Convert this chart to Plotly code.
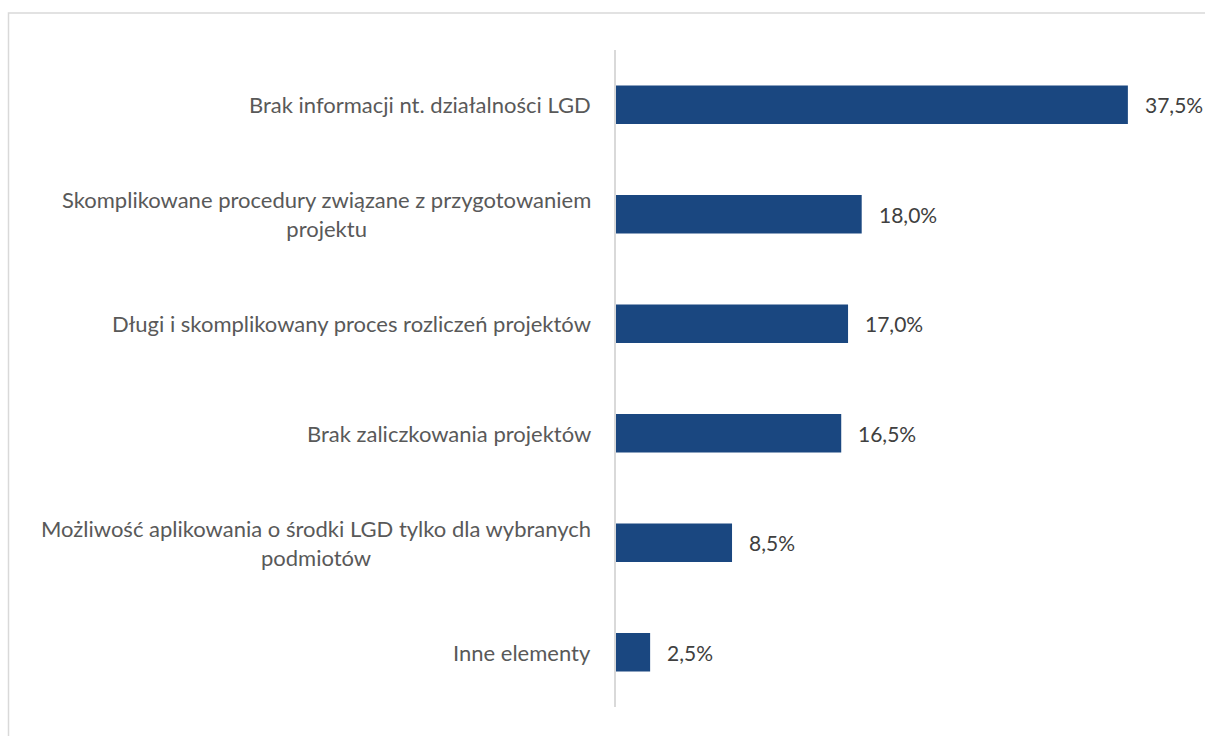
import plotly.graph_objects as go

# Barriers reported by respondents (share of answers, %)
categories = [
    "Brak informacji nt. działalności LGD",
    "Skomplikowane procedury związane z przygotowaniem<br>projektu",
    "Długi i skomplikowany proces rozliczeń projektów",
    "Brak zaliczkowania projektów",
    "Możliwość aplikowania o środki LGD tylko dla wybranych<br>podmiotów",
    "Inne elementy",
]
values = [37.5, 18.0, 17.0, 16.5, 8.5, 2.5]
value_labels = ["37,5%", "18,0%", "17,0%", "16,5%", "8,5%", "2,5%"]

W, H = 1205, 736
left, right, top, bottom = 616, 0, 50, 29
plot_w = W - left - right
plot_h = H - top - bottom
px_per_unit = 13.65
x_max = plot_w / px_per_unit

bar_color = "#1a4780"
font_family = "Lato, 'Open Sans', sans-serif"

fig = go.Figure()
fig.add_trace(go.Bar(
    y=categories,
    x=values,
    orientation="h",
    marker=dict(color=bar_color, line=dict(width=0)),
    width=0.35,
    hoverinfo="skip",
))

annotations = []
for cat, v, lab in zip(categories, values, value_labels):
    # value label to the right of each bar
    annotations.append(dict(
        x=v, y=cat, xref="x", yref="y", text=lab, showarrow=False,
        xanchor="left", yanchor="middle", xshift=15,
        font=dict(family=font_family, size=21, color="#404040"),
    ))
    # category label, right aligned next to the axis, lines centred
    annotations.append(dict(
        x=0, y=cat, xref="paper", yref="y", text=cat, showarrow=False,
        xanchor="right", yanchor="middle", xshift=-23, align="center",
        font=dict(family=font_family, size=22, color="#595959"),
    ))

# outer chart frame
x0p = (8.5 - left) / plot_w
y1p = (H - bottom - 13) / plot_h
shapes = [dict(
    type="rect", xref="paper", yref="paper",
    x0=x0p, x1=1.02, y0=-0.1, y1=y1p,
    line=dict(color="#d9d9d9", width=1.5), fillcolor="rgba(0,0,0,0)", layer="below",
)]

fig.update_layout(
    width=W, height=H,
    margin=dict(l=left, r=right, t=top, b=bottom, pad=0),
    paper_bgcolor="white", plot_bgcolor="white",
    showlegend=False,
    xaxis=dict(range=[0, x_max], visible=False, fixedrange=True),
    yaxis=dict(
        categoryorder="array", categoryarray=categories[::-1],
        showticklabels=False, showgrid=False, zeroline=False,
        showline=True, linecolor="#d9d9d9", linewidth=1.5, ticks="",
        fixedrange=True,
    ),
    annotations=annotations,
    shapes=shapes,
    bargap=0.65,
)

fig.write_html("out.html")
